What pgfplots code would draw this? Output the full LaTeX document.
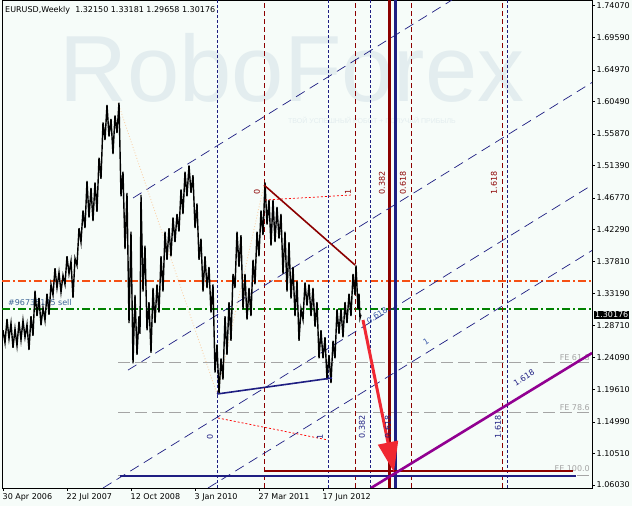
\documentclass[border=0pt]{standalone}
\usepackage{pgfplots}
\pgfplotsset{compat=1.18}
\usepackage{fontspec}
\setmainfont{DejaVu Sans}
\newfontfamily\wmfont{Liberation Sans}
\usetikzlibrary{arrows.meta}
\definecolor{bg}{RGB}{246,252,249}
\definecolor{navyc}{RGB}{30,30,130}
\definecolor{dred}{RGB}{140,0,0}
\definecolor{magc}{RGB}{145,0,145}
\definecolor{ared}{RGB}{240,40,50}
\definecolor{orc}{RGB}{245,80,20}
\definecolor{grc}{RGB}{0,130,0}
\definecolor{fegray}{RGB}{165,165,165}
\definecolor{peach}{RGB}{250,210,170}
\definecolor{wm}{RGB}{227,237,239}
\definecolor{lblue}{RGB}{60,90,170}
\definecolor{selltxt}{RGB}{60,100,150}
\pgfplotstableread{
x y
3 1.280
5 1.262
7 1.296
9 1.268
11 1.290
13 1.255
15 1.282
17 1.258
19 1.292
21 1.266
23 1.294
25 1.270
27 1.288
29 1.252
31 1.300
33 1.272
35 1.336
37 1.300
39 1.326
41 1.287
43 1.312
45 1.294
47 1.332
49 1.302
51 1.345
53 1.330
55 1.368
57 1.340
59 1.362
61 1.334
63 1.358
65 1.345
67 1.385
69 1.360
71 1.378
73 1.326
75 1.382
77 1.372
79 1.425
81 1.405
83 1.450
85 1.425
87 1.492
89 1.440
91 1.482
93 1.435
95 1.490
97 1.448
99 1.525
101 1.495
103 1.575
105 1.550
107 1.600
109 1.555
111 1.580
113 1.530
115 1.585
117 1.560
119 1.603
121 1.470
123 1.505
125 1.395
127 1.475
129 1.290
131 1.420
133 1.233
135 1.330
137 1.245
139 1.300
140 1.275
141 1.472
143 1.335
145 1.400
147 1.280
149 1.320
151 1.248
153 1.340
155 1.290
157 1.345
159 1.305
161 1.385
163 1.335
165 1.420
167 1.380
169 1.425
171 1.385
173 1.440
175 1.405
177 1.445
179 1.420
181 1.480
183 1.445
185 1.505
187 1.470
189 1.514
191 1.475
193 1.500
195 1.425
197 1.460
199 1.380
201 1.410
203 1.335
205 1.385
207 1.340
209 1.370
211 1.305
213 1.345
215 1.220
217 1.260
219 1.190
221 1.240
223 1.210
225 1.300
227 1.245
229 1.320
231 1.265
233 1.360
235 1.340
237 1.420
239 1.370
241 1.415
243 1.310
245 1.360
247 1.295
249 1.340
251 1.300
253 1.380
255 1.345
257 1.420
259 1.385
261 1.450
263 1.415
265 1.490
267 1.430
269 1.465
271 1.400
273 1.465
275 1.405
277 1.455
279 1.410
281 1.445
283 1.360
285 1.420
287 1.335
289 1.405
291 1.325
293 1.370
295 1.300
297 1.350
299 1.265
301 1.310
303 1.295
305 1.348
307 1.315
309 1.345
311 1.300
313 1.340
315 1.285
317 1.320
319 1.240
321 1.280
323 1.240
325 1.270
327 1.210
329 1.245
331 1.205
333 1.265
335 1.240
337 1.310
339 1.275
341 1.310
343 1.270
345 1.320
347 1.290
349 1.332
351 1.300
353 1.360
355 1.330
356 1.372
358 1.310
359 1.332
360 1.297
361 1.302
}\pricedata
\begin{document}
\begin{tikzpicture}
\fill[bg] (-2pt,-18pt) rectangle (630pt,488pt);
\begin{axis}[
  scale only axis, width=590pt, height=488pt,
  xmin=2, xmax=592, ymin=1.05603, ymax=1.74879,
  axis background/.style={fill=bg},
  clip mode=individual,
  axis line style={black, line width=0.8pt},
  tick align=outside, xtick pos=bottom, ytick pos=right,
  major tick length=3pt,
  tick style={black, line width=0.6pt},
  tick label style={font=\fontsize{8}{9}\selectfont},
  xtick={3,67,131,195,259,323},
  xticklabels={30 Apr 2006,22 Jul 2007,12 Oct 2008,3 Jan 2010,27 Mar 2011,17 Jun 2012},
  xticklabel style={anchor=north west, inner sep=1pt, xshift=-1.5pt, yshift=-1pt},
  ytick={1.06030,1.10510,1.14990,1.19610,1.24090,1.28710,1.33190,1.37810,1.42290,1.46770,1.51390,1.55870,1.60490,1.64970,1.69590,1.74070},
  yticklabels={1.06030,1.10510,1.14990,1.19610,1.24090,1.28710,1.33190,1.37810,1.42290,1.46770,1.51390,1.55870,1.60490,1.64970,1.69590,1.74070},
  yticklabel style={anchor=west, inner sep=1pt, xshift=0.5pt},
  /pgf/number format/assume math mode=true,
]
% watermark
\node[text=wm, font=\wmfont\fontsize{94}{94}\selectfont, anchor=base, inner sep=0pt] at (axis cs:292,1.60399) {RoboForex};
\node[text=wm, font=\wmfont\fontsize{7}{7}\selectfont, inner sep=0pt] at (axis cs:372,1.57844) {ТВОЙ УСПЕШНЫЙ РОБОТ + ПОЛУЧАЙ ПРИБЫЛЬ};
% title
\node[anchor=west, font=\fontsize{8}{9}\selectfont, inner sep=0pt] at (axis cs:5,1.73459) {EURUSD,Weekly\ \ 1.32150 1.33181 1.29658 1.30176};
% FE gray levels
\addplot[fegray, line width=0.8pt, dash pattern=on 12pt off 5pt] coordinates {(118,1.23489) (592,1.23489)};
\addplot[fegray, line width=0.8pt, dash pattern=on 12pt off 5pt] coordinates {(118,1.16391) (592,1.16391)};
\addplot[fegray, line width=0.8pt, dash pattern=on 12pt off 5pt] coordinates {(118,1.07448) (592,1.07448)};
\node[text=fegray, anchor=south east, font=\fontsize{8}{9}\selectfont, inner sep=1pt] at (axis cs:591,1.23489) {FE 61.8};
\node[text=fegray, anchor=south east, font=\fontsize{8}{9}\selectfont, inner sep=1pt] at (axis cs:591,1.16391) {FE 78.6};
\node[text=fegray, anchor=south east, font=\fontsize{8}{9}\selectfont, inner sep=1pt] at (axis cs:591,1.07748) {FE 100.0};
% order levels
\addplot[orc, line width=1.1pt, dash pattern=on 8pt off 3pt on 2pt off 3pt] coordinates {(2,1.34988) (592,1.34988)};
\addplot[grc, line width=1.1pt, dash pattern=on 8pt off 3pt on 2pt off 3pt] coordinates {(2,1.31013) (592,1.31013)};
\node[text=selltxt, anchor=west, font=\fontsize{8}{9}\selectfont, inner sep=0pt] at (axis cs:8,1.31865) {\#96735145 sell};
% vertical time lines
\foreach \xx in {217,328,370.5,507.5}{
  \edef\tmp{\noexpand\addplot[navyc, line width=0.7pt, dash pattern=on 3pt off 2pt] coordinates {(\xx,1.05603) (\xx,1.74879)};}\tmp
}
\foreach \xx in {264,355.5,411,502}{
  \edef\tmp{\noexpand\addplot[dred, line width=0.7pt, dash pattern=on 5pt off 3pt] coordinates {(\xx,1.05603) (\xx,1.74879)};}\tmp
}
\addplot[dred, line width=3pt] coordinates {(389.5,1.05603) (389.5,1.74879)};
\addplot[navyc, line width=3pt] coordinates {(395,1.05603) (395,1.74879)};
% channel lines
\addplot[navyc, line width=0.7pt, dash pattern=on 10pt off 6pt] coordinates {(133,1.46771) (452,1.74879)};
\addplot[navyc, line width=0.7pt, dash pattern=on 10pt off 6pt] coordinates {(128,1.22340) (592,1.63167)};
\addplot[navyc, line width=0.7pt, dash pattern=on 10pt off 6pt] coordinates {(103,1.05603) (592,1.48616)};
\addplot[navyc, line width=0.7pt, dash pattern=on 10pt off 6pt] coordinates {(208,1.05603) (592,1.39318)};
% peach zigzag
\addplot[peach, line width=0.9pt, dotted] coordinates {(118,1.60257) (217,1.18946) (264,1.48616)};
% price
\addplot[black, line width=1.4pt] table[x=x,y=y] {\pricedata};
% time zone baselines
\addplot[red, line width=0.7pt, dash pattern=on 2pt off 2pt] coordinates {(265,1.46487) (352,1.47197)};
\addplot[red, line width=0.7pt, dash pattern=on 2pt off 2pt] coordinates {(218,1.15539) (328,1.12417)};
% trend lines
\addplot[dred, line width=1.6pt] coordinates {(264,1.48616) (355,1.37260)};
\addplot[navyc, line width=1.6pt] coordinates {(217,1.18946) (332,1.21217)};
% horizontal thick lines
\addplot[dred, line width=2.2pt] coordinates {(264,1.08058) (573,1.08058)};
\addplot[navyc, line width=2.2pt] coordinates {(120,1.07349) (576,1.07349)};
% magenta
\addplot[magc, line width=2.6pt] coordinates {(371,1.05603) (592,1.24767)};
% arrow
\draw[ared, line width=3pt, -{Triangle[length=30pt,width=20pt]}] (axis cs:363,1.29452) -- (axis cs:394,1.07874);
% labels
\begin{scope}[font=\fontsize{8}{9}\selectfont, inner sep=0pt]
\node[rotate=90, text=dred] at (axis cs:382,1.48900) {0.382};
\node[rotate=90, text=dred] at (axis cs:403,1.48900) {0.618};
\node[rotate=90, text=dred] at (axis cs:494,1.48900) {1.618};
\node[rotate=90, text=dred] at (axis cs:257,1.47623) {0};
\node[rotate=90, text=dred] at (axis cs:348,1.47623) {1};
\node[rotate=90, text=navyc] at (axis cs:362,1.14261) {0.382};
\node[rotate=90, text=navyc] at (axis cs:388,1.14261) {0.618};
\node[rotate=90, text=navyc] at (axis cs:498,1.14261) {1.618};
\node[rotate=90, text=navyc] at (axis cs:210,1.12842) {0};
\node[rotate=90, text=navyc] at (axis cs:320,1.12842) {1};
\node[rotate=32, text=lblue] at (axis cs:377,1.30090) {0.618};
\node[rotate=32, text=lblue] at (axis cs:426,1.26397) {1};
\node[rotate=32, text=navyc] at (axis cs:524,1.21233) {1.618};
\end{scope}
% current price box
\node[fill=black, text=white, anchor=west, inner sep=1pt, font=\fontsize{8}{9}\selectfont] at (axis cs:594,1.30176) {1.30176};
\end{axis}
\pgfresetboundingbox
\path (-2pt,-18pt) rectangle (630pt,488pt);
\end{tikzpicture}
\end{document}
